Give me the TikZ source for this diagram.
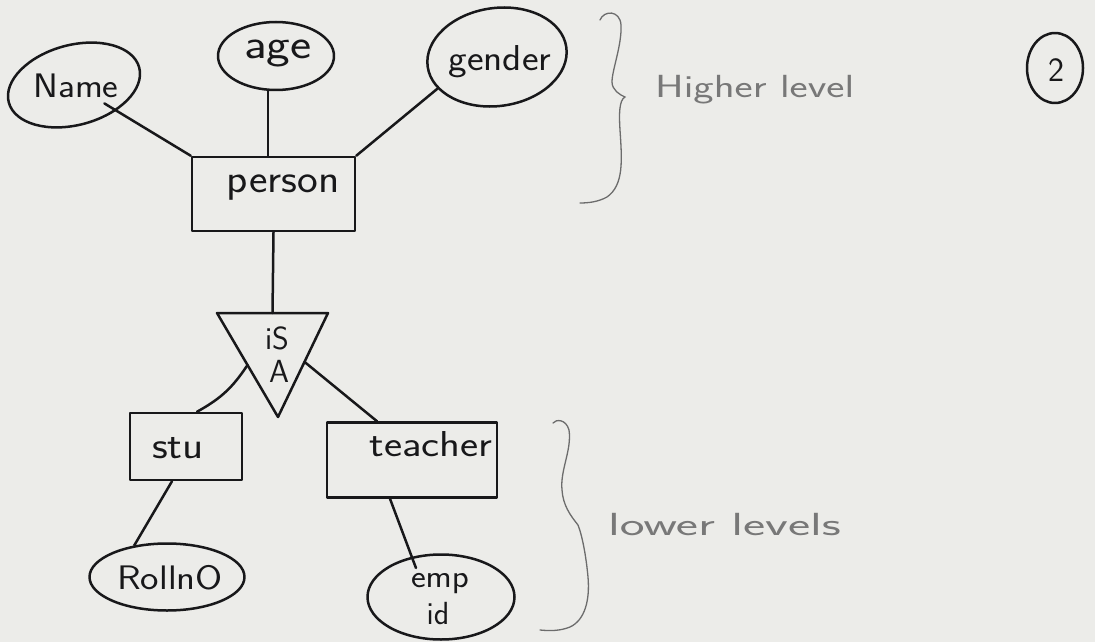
\documentclass[tikz,border=0pt]{standalone}
\usepackage{fontspec}
\usetikzlibrary{shapes.geometric,calc}
\definecolor{paper}{RGB}{236,236,233}
\definecolor{inkc}{RGB}{24,24,26}
\definecolor{notec}{RGB}{120,120,120}
\tikzset{
  ink/.style={draw=inkc, line width=2.5pt, line cap=round, line join=round},
  attr/.style={ellipse, ink, inner sep=0pt},
  entity/.style={rectangle, ink, inner sep=0pt},
  lbl/.style={text=inkc, inner sep=0pt, font=\fontsize{#1}{#1}\selectfont\sffamily},
  lbl/.default=30,
  note/.style={text=notec, inner sep=0pt, font=\fontsize{32}{32}\selectfont\sffamily},
  conn/.style={ink},
  notebrace/.style={draw=notec!90!black, line width=1.3pt, line cap=round}
}
\begin{document}
\begin{tikzpicture}[x=1pt,y=-1pt]
\path[use as bounding box, fill=paper] (0,0) rectangle (1095,642);

% higher level attributes
\node[attr, minimum width=135, minimum height=80, rotate=15] (name) at (74,85) {};
\node[lbl=34] (namet) at (76,86) {\scalebox{1.1}[1]{Name}};
\node[attr, minimum width=116, minimum height=68] (age) at (276,56) {};
\node[lbl=42] (aget) at (278,54) {\scalebox{1.2}[1]{age}};
\node[attr, minimum width=140, minimum height=98, rotate=8] (gender) at (497,57) {};
\node[lbl=36] (gendert) at (500,62) {\scalebox{1.1}[1]{gender}};

% person entity
\node[entity, minimum width=163, minimum height=74] (person) at (273.5,194) {};
\node[lbl=40] (persont) at (283,188) {\scalebox{1.1}[1]{person}};

% ISA triangle
\coordinate (t1) at (217,313);
\coordinate (t2) at (328,313);
\coordinate (apex) at (278,417);
\draw[ink] (t1) -- (t2) -- (apex) -- cycle;
\coordinate (isatop) at ($(t1)!0.5!(t2)$);
\coordinate (isaL) at ($(t1)!0.5!(apex)$);
\coordinate (isaR) at ($(t2)!0.47!(apex)$);
\node[lbl=32] (isat1) at (277,338) {iS};
\node[lbl=32] (isat2) at (279,371) {A};

% lower entities
\node[entity, minimum width=112, minimum height=67] (stu) at (186,446.5) {};
\node[lbl=38] (stut) at (178,448) {\scalebox{1.15}[1]{stu}};
\node[entity, minimum width=170, minimum height=75] (teacher) at (412,460) {};
\node[lbl=36] (teachert) at (431,444) {\scalebox{1.2}[1]{teacher}};

% lower attributes
\node[attr, minimum width=155, minimum height=67] (rollno) at (167,577) {};
\node[lbl=34] (rollnot) at (170,578) {\scalebox{1.15}[1]{RollnO}};
\node[attr, minimum width=147, minimum height=85] (empid) at (441,597) {};
\node[lbl=32, anchor=base] (empt) at (440,587) {\scalebox{1.1}[1]{emp}};
\node[lbl=32, anchor=base] (idt) at (438,624) {id};

% connectors
\draw[conn, shorten <=-14pt] (name) -- (person.north west);
\draw[conn] ([xshift=-8pt]age.south) -- ([xshift=-8pt]age.south |- person.north);
\draw[conn] (gender.200) -- (person.north east);
\draw[conn] (person.south) -- (isatop);
\draw[conn] (isaL) to[bend left=14] ([xshift=11pt]stu.north);
\draw[conn] (isaR) -- ([xshift=-35pt]teacher.north);
\draw[conn] ([xshift=-14pt]stu.south) -- (rollno.136);
\draw[conn, shorten >=-12pt] ([xshift=-22pt]teacher.south) -- (empid.126);

% higher level brace and note
\draw[notebrace] (600,20) .. controls (604,10) and (620,10) .. (621,25)
  .. controls (622,45) and (612,70) .. (612,82)
  .. controls (612,90) and (620,95) .. (625,97)
  .. controls (619,100) and (619,115) .. (620,130)
  .. controls (622,160) and (624,185) .. (607,197)
  .. controls (598,202) and (588,203) .. (580,203);
\node[note, anchor=west] (higher) at (655,90) {\scalebox{1.35}[1]{Higher level}};

% lower level brace and note
\draw[notebrace] (553,423) .. controls (556,419) and (566,419) .. (569,430)
  .. controls (572,450) and (560,470) .. (562,490)
  .. controls (563,505) and (570,515) .. (578,525)
  .. controls (582,535) and (586,555) .. (588,577)
  .. controls (590,600) and (585,620) .. (570,627)
  .. controls (560,631) and (550,631) .. (540,630);
\node[note, anchor=west] (lower) at (608,525) {\scalebox{1.65}[1]{lower levels}};

% circled page number
\node[ellipse, ink, minimum width=56, minimum height=70, inner sep=0pt] (pagenum) at (1055,68) {};
\node[lbl=34] (pagenumt) at (1056,70) {2};
\end{tikzpicture}
\end{document}
